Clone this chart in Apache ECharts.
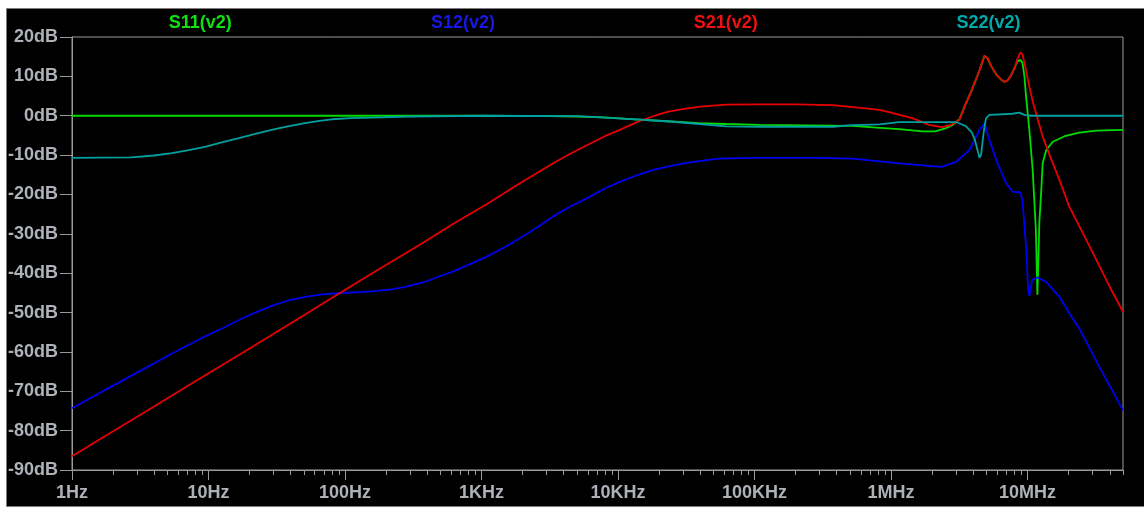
<!DOCTYPE html>
<html>
<head>
<meta charset="utf-8">
<title>S-parameters</title>
<script src="https://cdn.jsdelivr.net/npm/echarts@6/dist/echarts.min.js"></script>
<style>
  html, body { margin: 0; padding: 0; background: #ffffff; }
  #chart { width: 1144px; height: 508px; }
</style>
</head>
<body>
<div id="chart"></div>
<script>
// Frequency sweep points (Hz) and magnitudes (dB) for each trace
const s11Freq = [1, 10, 100, 1e3, 3e3, 5e3, 8e3, 11.6e3, 22.7e3, 39.6e3, 62e3, 109e3, 373e3, 522e3, 782e3,
  1.14e6, 1.7e6, 2.1e6, 2.5e6, 2.8e6, 3.0e6, 3.17e6, 3.51e6, 3.9e6, 4.44e6, 4.7e6, 4.83e6, 5.1e6, 5.41e6,
  5.95e6, 6.5e6, 6.76e6, 7.1e6, 7.5e6, 8.0e6, 8.4e6, 8.85e6, 9.17e6, 9.48e6, 9.75e6, 10.3e6, 10.9e6,
  11.5e6, 11.8e6, 12.2e6, 12.6e6, 12.9e6, 13.7e6, 15.3e6, 18.7e6, 23.9e6, 31.9e6, 5e7];
const s11Db = [0, 0, 0, 0, -0.1, -0.2, -0.4, -0.8, -1.4, -1.9, -2.1, -2.3, -2.5, -2.6, -3.0,
  -3.4, -4.0, -4.0, -3.2, -2.4, -1.6, -0.9, 2.9, 6.5, 11.5, 14.0, 15.2, 14.6, 12.6,
  10.3, 9.0, 8.6, 8.9, 10.0, 12.0, 13.8, 14.2, 13.5, 10.0, 4.8, -3.6, -13.8,
  -29.0, -45.5, -27.0, -18.9, -12.0, -8.7, -6.6, -5.2, -4.3, -3.8, -3.6];

const s12Freq = [1, 1.74, 3.09, 5.4, 9.4, 13, 16.7, 22, 29, 38, 51, 68, 90, 157, 220, 275, 380, 483, 617,
  800, 1.09e3, 1.5e3, 1.9e3, 2.6e3, 3.3e3, 4.5e3, 5.9e3, 8e3, 10.3e3, 14e3, 17.9e3, 24e3, 31.6e3, 42e3,
  55e3, 97e3, 300e3, 522e3, 1.15e6, 2.33e6, 3.0e6, 3.75e6, 4.44e6,
  4.83e6, 5.25e6, 6.0e6, 6.96e6, 7.74e6, 8.85e6, 9.17e6, 9.75e6, 10.1e6, 10.3e6, 10.8e6, 11.8e6,
  13.7e6, 17.1e6, 20.6e6, 23.9e6, 35e6, 5e7];
const s12Db = [-74.3, -69.7, -65.0, -60.4, -56.1, -53.8, -51.9, -50.0, -48.3, -47.0, -46.0, -45.4, -45.1, -44.6, -44.1, -43.5, -42.3, -40.9, -39.6,
  -37.9, -35.8, -33.3, -31.1, -28.2, -25.7, -23.0, -21.0, -18.5, -16.8, -15.0, -13.8, -12.8, -12.0, -11.4,
  -10.9, -10.7, -10.7, -10.9, -12.1, -13.0, -11.7, -8.7, -3.6,
  -1.9, -6.2, -12.0, -17.1, -19.3, -19.5, -21.4, -33.3, -44.3, -45.8, -41.7, -41.1,
  -42.2, -46.0, -50.6, -54.0, -65.0, -74.8];

const s21Freq = [1, 1.74, 3.09, 5.4, 9.4, 16.7, 29, 51, 80, 157, 353, 617, 1.09e3, 1.9e3, 3.3e3, 4.5e3, 5.9e3,
  8e3, 10.3e3, 14e3, 18.6e3, 23e3, 29.7e3, 40e3, 62e3, 100e3, 200e3, 373e3, 600e3, 822e3, 1.0e6, 1.43e6, 1.89e6,
  2.35e6, 2.75e6, 3.17e6, 3.51e6, 3.9e6, 4.44e6, 4.7e6, 4.83e6, 5.1e6, 5.41e6, 5.95e6, 6.5e6, 6.76e6,
  7.1e6, 7.5e6, 8.0e6, 8.4e6, 8.85e6, 9.17e6, 9.48e6, 9.75e6, 10.3e6, 10.9e6, 11.8e6, 12.9e6, 14.5e6,
  17.1e6, 20.2e6, 24.7e6, 30e6, 40e6, 5e7];
const s21Db = [-86.5, -81.4, -76.2, -71.1, -66.0, -60.8, -55.7, -50.5, -46.3, -40.1, -32.8, -27.5, -22.5, -17.2, -12.2, -9.6, -7.5,
  -5.2, -3.6, -1.5, 0, 1.0, 1.7, 2.3, 2.8, 2.9, 2.9, 2.7, 2.0, 1.5, 0.8, -0.6, -2.3,
  -2.9, -2.3, -1.0, 2.9, 6.5, 11.5, 14.0, 15.2, 14.6, 12.6, 10.3, 9.0, 8.6,
  8.9, 10.0, 12.0, 14.3, 16.0, 15.6, 13.4, 11.4, 7.4, 3.6, -0.6, -5.3, -10.0,
  -16.3, -23.1, -29.0, -34.8, -43.5, -49.8];

const s22Freq = [1, 2.7, 4, 5.4, 7, 9.4, 12.5, 16.7, 22, 29, 38, 51, 65, 80, 110, 157, 300, 1e3, 5e3, 11.6e3,
  22.7e3, 39.6e3, 62.3e3, 109e3, 373e3, 522e3, 822e3, 1.14e6, 3.0e6, 3.51e6, 3.9e6, 4.1e6, 4.44e6, 4.57e6,
  4.7e6, 4.83e6, 4.97e6, 5.25e6, 7.74e6, 8.7e6, 9.5e6, 10.3e6, 5e7];
const s22Db = [-10.7, -10.6, -10.1, -9.5, -8.8, -7.9, -6.8, -5.7, -4.6, -3.6, -2.7, -1.9, -1.3, -0.9, -0.6, -0.5, -0.2, 0, -0.1, -0.8,
  -1.4, -2.1, -2.7, -2.8, -2.8, -2.4, -2.2, -1.6, -1.6, -2.6, -4.2, -6.0, -10.7, -9.9,
  -6.0, -2.8, -0.6, 0.2, 0.5, 0.8, 0.2, 0, 0];

// Axis labelling
const freqTickLabels = ['1Hz', '10Hz', '100Hz', '1KHz', '10KHz', '100KHz', '1MHz', '10MHz'];
const freqMin = 1;
const freqMax = 5e7;
const dbMin = -90;
const dbMax = 20;
const dbStep = 10;

const traceNames = ['S11(v2)', 'S12(v2)', 'S21(v2)', 'S22(v2)'];
const traceColors = ['#00dc00', '#0000f0', '#e80000', '#00a0a0'];
const titleColors = ['#10e010', '#1818e8', '#f01010', '#00aaaa'];

// Minor ticks at 2..9 within every decade, on a linear log10(f) companion axis
const minorTickPos = [];
for (let d = 0; d < 8; d++) {
  for (let k = 2; k <= 9; k++) {
    const f = k * Math.pow(10, d);
    if (f <= freqMax) minorTickPos.push(Math.log10(f));
  }
}

const pairs = (f, v) => f.map((x, i) => [x, v[i]]);
const seriesData = [pairs(s11Freq, s11Db), pairs(s12Freq, s12Db), pairs(s21Freq, s21Db), pairs(s22Freq, s22Db)];

const axisGray = '#9a9a9a';
const labelColor = '#aeb2b8';
const fontFamily = '"Liberation Sans", Arial, sans-serif';

const gridLeft = 72, gridTop = 37, gridRight = 21, gridBottom = 38;
const plotWidth = 1144 - gridLeft - gridRight;
const titleCenters = [0.122, 0.372, 0.622, 0.872];

const chart = echarts.init(document.getElementById('chart'), null, { renderer: 'canvas' });

chart.setOption({
  animation: false,
  backgroundColor: '#ffffff',
  graphic: [
    {
      type: 'rect',
      z: -10,
      silent: true,
      shape: { x: 6.5, y: 8.5, width: 1140, height: 498 },
      style: { fill: '#000000', stroke: '#7c7c7c', lineWidth: 1 }
    }
  ].concat(traceNames.map((name, i) => ({
    type: 'text',
    silent: true,
    x: gridLeft + plotWidth * titleCenters[i],
    y: 23,
    style: {
      text: name,
      fill: titleColors[i],
      font: 'bold 18px ' + fontFamily,
      textAlign: 'center',
      textVerticalAlign: 'middle'
    }
  }))),
  grid: {
    left: gridLeft, top: gridTop, right: gridRight, bottom: gridBottom,
    show: true, borderColor: axisGray, borderWidth: 1, backgroundColor: 'transparent'
  },
  xAxis: [
    {
      type: 'log',
      logBase: 10,
      min: freqMin,
      max: freqMax,
      splitNumber: 8,
      axisLine: { show: true, onZero: false, lineStyle: { color: axisGray, width: 1 } },
      axisTick: { show: true, length: 10, lineStyle: { color: axisGray, width: 1 } },
      axisLabel: {
        margin: 14,
        color: labelColor,
        fontFamily: fontFamily,
        fontWeight: 'bold',
        fontSize: 18,
        showMaxLabel: false,
        formatter: (v) => {
          const e = Math.log10(v);
          const r = Math.round(e);
          return Math.abs(e - r) < 1e-6 && freqTickLabels[r] ? freqTickLabels[r] : '';
        }
      },
      splitLine: { show: false }
    },
    {
      type: 'value',
      min: 0,
      max: Math.log10(freqMax),
      position: 'bottom',
      axisLine: { show: false, onZero: false },
      axisLabel: { show: false },
      splitLine: { show: false },
      axisTick: { show: true, length: 5, customValues: minorTickPos, lineStyle: { color: axisGray, width: 1 } }
    }
  ],
  yAxis: {
    type: 'value',
    min: dbMin,
    max: dbMax,
    interval: dbStep,
    axisLine: { show: true, onZero: false, lineStyle: { color: axisGray, width: 1 } },
    axisTick: { show: true, length: 12, lineStyle: { color: axisGray, width: 1 } },
    axisLabel: {
      margin: 14,
      color: labelColor,
      fontFamily: fontFamily,
      fontWeight: 'bold',
      fontSize: 18,
      formatter: (v) => v + 'dB'
    },
    splitLine: { show: false }
  },
  series: traceNames.map((name, i) => ({
    name: name,
    type: 'line',
    xAxisIndex: 0,
    data: seriesData[i],
    showSymbol: false,
    symbol: 'none',
    smooth: false,
    clip: true,
    lineStyle: { color: traceColors[i], width: 1.8 }
  }))
});
</script>
</body>
</html>
